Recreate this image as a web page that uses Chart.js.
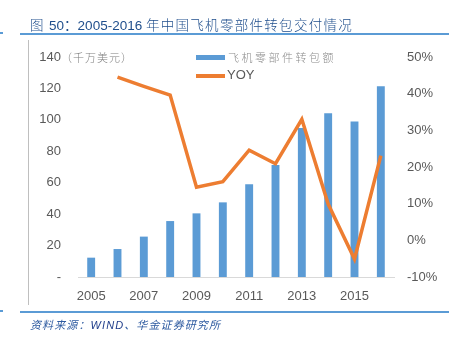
<!DOCTYPE html>
<html><head><meta charset="utf-8">
<script src="https://cdn.jsdelivr.net/npm/chart.js@4/dist/chart.umd.min.js"></script>
<style>
html,body{margin:0;padding:0;background:#fff;}
#wrap{position:relative;width:455px;height:343px;overflow:hidden;font-family:"Liberation Sans","Noto Sans CJK SC",sans-serif;}
#c{position:absolute;left:0;top:0;}
.abs{position:absolute;white-space:nowrap;}
#title{left:30px;top:14px;font-size:13.5px;color:#1f4e8c;font-family:"Liberation Sans","Noto Sans CJK SC",sans-serif;}
#title .cjk{font-family:"Noto Sans CJK SC";font-weight:300;letter-spacing:1.3px;}
#src{left:30px;top:316px;font-size:11px;font-style:italic;color:#2d5aa0;font-family:"Liberation Sans","Noto Sans CJK SC",sans-serif;letter-spacing:1.1px;}
#unit{left:61px;top:49px;font-size:11px;color:#7f7f7f;font-family:"Noto Sans CJK SC";font-weight:300;letter-spacing:1px;}
.line{position:absolute;}
.lg{position:absolute;font-size:11px;color:#8c8c8c;}
</style></head>
<body><div id="wrap">
<canvas id="c" width="455" height="343"></canvas>
<div class="line" style="left:20px;top:33px;width:429px;height:2px;background:#5b9bd5;"></div>
<div class="line" style="left:0px;top:32px;width:3px;height:2px;background:#5b9bd5;"></div>
<div class="line" style="left:20px;top:311px;width:429px;height:2px;background:#5b9bd5;"></div>
<div class="line" style="left:0px;top:310px;width:3px;height:2px;background:#5b9bd5;"></div>
<div class="line" style="left:28px;top:40px;width:1px;height:265px;background:#bfbfbf;"></div>
<div id="title" class="abs"><span class="cjk">图 </span>50：2005-2016 <span class="cjk">年中国飞机零部件转包交付情况</span></div>
<div id="src" class="abs">资料来源：<span style="color:#1f3d8a">WIND</span>、华金证券研究所</div>
<div id="unit" class="abs">（千万美元）</div>
<div id="legend"></div>
</div>
<script>
const years = ['2005','2006','2007','2008','2009','2010','2011','2012','2013','2014','2015','2016'];
const amount = [12.3,17.8,25.7,35.6,40.5,47.5,59,71.3,94.8,104.2,98.9,121.4];
const yoy = [null,44.5,42,39.6,14.5,16,24.6,20.9,33,9.9,-5.1,23.1];
const leftTicks = [0,20,40,60,80,100,120,140];
const rightTicks = [-10,0,10,20,30,40,50];
const seriesNames = ['飞机零部件转包额','YOY'];

const blue = '#5b9bd5', orange = '#ed7d31';
const tickFont = {family:'Liberation Sans', size:13};

new Chart(document.getElementById('c'), {
  data: {
    labels: years,
    datasets: [
      {type:'line', label:seriesNames[1], data:yoy, yAxisID:'yR', borderColor:orange, backgroundColor:orange,
       borderWidth:3.5, pointRadius:0, tension:0, spanGaps:false, order:0},
      {type:'bar', label:seriesNames[0], data:amount, yAxisID:'yL', backgroundColor:blue,
       barPercentage:0.6, categoryPercentage:0.5, order:1}
    ]
  },
  options: {
    responsive:false, animation:false,
    layout:{padding:{left:0,right:0,top:57,bottom:0}},
    plugins:{legend:{display:false}, tooltip:{enabled:false}},
    scales:{
      x:{
        grid:{display:false, drawTicks:false},
        border:{display:true, color:'#d9d9d9', width:1},
        ticks:{color:'#595959', font:tickFont, padding:12, autoSkip:false, maxRotation:0,
          callback:function(v,i){return i%2===0 ? this.getLabelForValue(v) : '';}},
        afterFit:s=>{s.height=66;}
      },
      yL:{
        position:'left', min:0, max:140,
        grid:{display:false, drawTicks:false}, border:{display:false},
        afterBuildTicks:s=>{s.ticks = leftTicks.map(v=>({value:v}));},
        ticks:{color:'#595959', font:tickFont, padding:17, callback:v=> v===0 ? '-' : String(v)},
        afterFit:s=>{s.width=78;}
      },
      yR:{
        position:'right', min:-10, max:50,
        grid:{display:false, drawTicks:false}, border:{display:false},
        afterBuildTicks:s=>{s.ticks = rightTicks.map(v=>({value:v}));},
        ticks:{color:'#595959', font:tickFont, padding:13, callback:v=> v+'%'},
        afterFit:s=>{s.width=61;}
      }
    }
  }
});

// legend built from series names
const lg = document.getElementById('legend');
lg.innerHTML =
  '<div class="line" style="left:196px;top:55px;width:29px;height:5px;background:'+blue+'"></div>'+
  '<div class="lg" style="left:228px;top:49px;font-family:\'Noto Sans CJK SC\';font-weight:300;letter-spacing:2.5px;">'+seriesNames[0]+'</div>'+
  '<div class="line" style="left:196px;top:74px;width:29px;height:3.5px;background:'+orange+'"></div>'+
  '<div class="lg" style="left:227px;top:67px;font-size:13px;color:#595959;">'+seriesNames[1]+'</div>';
</script>
</body></html>
